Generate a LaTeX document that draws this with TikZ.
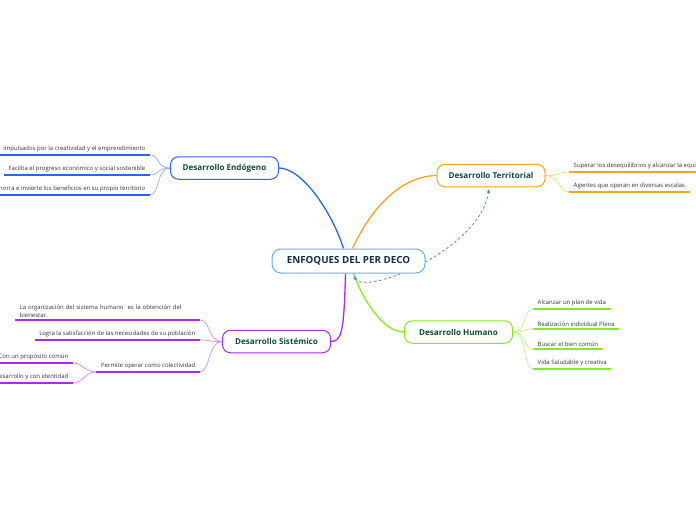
\documentclass[tikz,border=0pt]{standalone}
\usepackage{fontspec}
\setmainfont{Open Sans}
\usetikzlibrary{arrows.meta,positioning}
\definecolor{rootBlue}{HTML}{6AAEE8}
\definecolor{linkBlue}{HTML}{3F8DE0}
\definecolor{endoBlue}{HTML}{2E64F5}
\definecolor{terrOrange}{HTML}{FFA01E}
\definecolor{humGreen}{HTML}{86EB1E}
\definecolor{sysPurple}{HTML}{A82BF2}
\definecolor{navyInk}{HTML}{1B2A48}
\definecolor{topicInk}{HTML}{0F4A3A}
\definecolor{leafInk}{HTML}{333333}
\pgfdeclarelayer{paper}
\pgfdeclarelayer{links}
\pgfsetlayers{paper,links,main}

\begin{document}
\begin{tikzpicture}[
    x=1pt, y=-1pt,
    root/.style={draw=rootBlue, fill=white, line width=1pt, rounded corners=9pt, minimum width=153pt, minimum height=24pt, font=\fontsize{9.8}{11}\selectfont\bfseries, text=navyInk},
    topic/.style={draw=#1, fill=white, line width=1pt, rounded corners=8pt, minimum width=108pt, minimum height=22.5pt, font=\fontsize{8.1}{9}\selectfont\bfseries, text=topicInk},
    leaf/.style={inner xsep=4.5pt, inner ysep=2.5pt, font=\fontsize{6}{8}\selectfont, text=leafInk},
    branch/.style={draw=#1, line width=1.3pt},
    twig/.style={draw=#1!60, line width=0.6pt},
    under/.style={draw=#1, line width=1.4pt},
    link/.style={draw=linkBlue, dash pattern=on 2.5pt off 2.5pt, line width=0.8pt, {Latex[length=4pt,width=3.5pt]}-{Latex[length=4pt,width=3.5pt]}}
  ]
    \useasboundingbox (0,0) rectangle (696,520);
    \clip (0,0) rectangle (696,520);
    \begin{pgfonlayer}{paper}
      \fill[white] (0,0) rectangle (696,520);
    \end{pgfonlayer}

    % Nodes
    \node[root] (root) at (348.5,261) {ENFOQUES DEL PER DECO};
    \node[topic=endoBlue] (endo) at (224.5,168) {Desarrollo Endógeno};
    \node[topic=terrOrange] (terr) at (491,175.5) {Desarrollo Territorial};
    \node[topic=humGreen] (hum) at (458.5,332) {Desarrollo Humano};
    \node[topic=sysPurple] (sys) at (276.5,341.5) {Desarrollo Sistémico};

    \node[leaf, anchor=south east] (endoA) at (150,155) {impulsados por la creatividad y el emprendimiento};
    \node[leaf, anchor=south east] (endoB) at (150,175) {Facilita el progreso económico y social sostenible};
    \node[leaf, anchor=south east] (endoC) at (150,195) {Ahorra e invierte los beneficios en su propio territorio};

    \node[leaf, anchor=south west] (terrA) at (569,172) {Superar los desequilibrios y alcanzar la equidad};
    \node[leaf, anchor=south west] (terrB) at (569,192) {Agentes que operan en diversas escalas};

    \node[leaf, anchor=south west] (humA) at (533,309) {Alcanzar un plan de vida};
    \node[leaf, anchor=south west] (humB) at (533,329) {Realización individual Plena};
    \node[leaf, anchor=south west] (humC) at (533,349) {Buscar el bien común};
    \node[leaf, anchor=south west] (humD) at (533,369) {Vida Saludable y creativa};

    \node[leaf, anchor=south west, text width=176pt, align=left] (sysA) at (15,320) {La organización del sistema humano \ es la obtención del\\bienestar.};
    \node[leaf, anchor=south east] (sysB) at (200,340) {Logra la satisfacción de las necesidades de su población};
    \node[leaf, anchor=south east] (sysC) at (200,372) {Permite operar como colectividad};
    \node[leaf, anchor=south east] (subA) at (73,363) {Con un propósito común};
    \node[leaf, anchor=south east] (subB) at (73,383) {Desarrollo y con identidad};

    % Edges
    \begin{pgfonlayer}{links}
      \draw[branch=endoBlue] ([xshift=-5pt]root.north) .. controls (332,212) and (302,168) .. (endo.east);
      \draw[branch=terrOrange] ([xshift=4pt]root.north) .. controls (370,210) and (400,176) .. (terr.west);
      \draw[branch=humGreen] ([xshift=5pt]root.south) .. controls (365,305) and (385,332) .. (hum.west);
      \draw[branch=sysPurple] ([xshift=-3pt]root.south) .. controls (344,330) and (342,341.5) .. (sys.east);

      \draw[link] ([xshift=5pt,yshift=-2pt]root.south) .. controls (365,296) and (480,250) .. ([xshift=-2pt,yshift=-1.5pt]terr.south);

      \draw[twig=endoBlue] (endo.west) .. controls +(-14,0) and +(10,0) .. (endoA.south east);
      \draw[twig=endoBlue] (endo.west) .. controls +(-14,0) and +(10,0) .. (endoB.south east);
      \draw[twig=endoBlue] (endo.west) .. controls +(-14,0) and +(10,0) .. (endoC.south east);

      \draw[twig=terrOrange] (terr.east) .. controls +(14,0) and +(-10,0) .. (terrA.south west);
      \draw[twig=terrOrange] (terr.east) .. controls +(14,0) and +(-10,0) .. (terrB.south west);

      \draw[twig=humGreen] (hum.east) .. controls +(14,0) and +(-10,0) .. (humA.south west);
      \draw[twig=humGreen] (hum.east) .. controls +(14,0) and +(-10,0) .. (humB.south west);
      \draw[twig=humGreen] (hum.east) .. controls +(14,0) and +(-10,0) .. (humC.south west);
      \draw[twig=humGreen] (hum.east) .. controls +(14,0) and +(-10,0) .. (humD.south west);

      \draw[twig=sysPurple] (sys.west) .. controls +(-14,0) and +(10,0) .. (sysA.south east);
      \draw[twig=sysPurple] (sys.west) .. controls +(-14,0) and +(10,0) .. (sysB.south east);
      \draw[twig=sysPurple] (sys.west) .. controls +(-14,0) and +(10,0) .. (sysC.south east);
      \draw[twig=sysPurple] (sysC.south west) .. controls +(-12,0) and +(10,0) .. (subA.south east);
      \draw[twig=sysPurple] (sysC.south west) .. controls +(-12,0) and +(10,0) .. (subB.south east);
    \end{pgfonlayer}

    % Underlines
    \draw[under=endoBlue] (endoA.south west) -- (endoA.south east);
    \draw[under=endoBlue] (endoB.south west) -- (endoB.south east);
    \draw[under=endoBlue] (endoC.south west) -- (endoC.south east);
    \draw[under=terrOrange] (terrA.south west) -- (terrA.south east);
    \draw[under=terrOrange] (terrB.south west) -- (terrB.south east);
    \draw[under=humGreen] (humA.south west) -- (humA.south east);
    \draw[under=humGreen] (humB.south west) -- (humB.south east);
    \draw[under=humGreen] (humC.south west) -- (humC.south east);
    \draw[under=humGreen] (humD.south west) -- (humD.south east);
    \draw[under=sysPurple] (sysA.south west) -- (sysA.south east);
    \draw[under=sysPurple] (sysB.south west) -- (sysB.south east);
    \draw[under=sysPurple] (sysC.south west) -- (sysC.south east);
    \draw[under=sysPurple] (subA.south west) -- (subA.south east);
    \draw[under=sysPurple] (subB.south west) -- (subB.south east);
  \end{tikzpicture}
\end{document}
